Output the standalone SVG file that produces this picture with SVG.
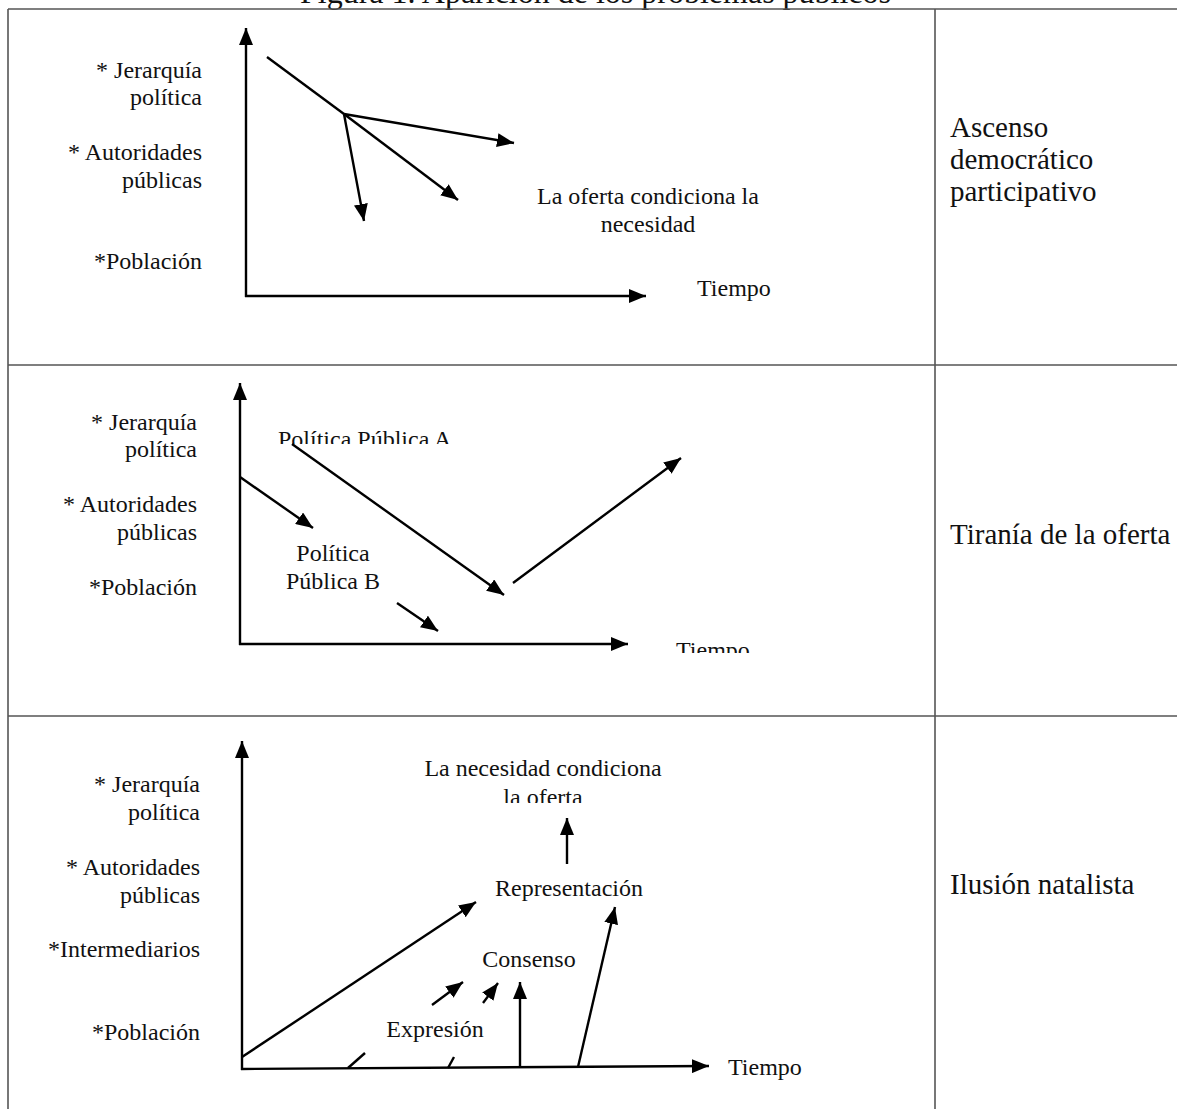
<svg xmlns="http://www.w3.org/2000/svg" width="1177" height="1109" viewBox="0 0 1177 1109">
<style>
  .t { font-family: "Liberation Serif", "Times New Roman", serif; font-size: 24px; fill: #111; }
  .lbl { text-anchor: end; }
  .mid { text-anchor: middle; }
  .big { font-family: "Liberation Serif", "Times New Roman", serif; font-size: 29px; fill: #111; }
  .title { font-family: "Liberation Serif", "Times New Roman", serif; font-size: 32px; fill: #111; }
  .grid { stroke: #555; stroke-width: 1.6; fill: none; }
  .ax { stroke: #000; stroke-width: 2.4; fill: none; }
  .arr { stroke: #000; stroke-width: 2.4; fill: none; marker-end: url(#ah); }
</style>
<defs>
  <marker id="ah" markerUnits="userSpaceOnUse" markerWidth="18" markerHeight="14" refX="17" refY="7" orient="auto">
    <path d="M0,0 L17,7 L0,14 z" fill="#000"/>
  </marker>
  <clipPath id="clipA"><rect x="0" y="0" width="1177" height="444"/></clipPath>
  <clipPath id="clipT"><rect x="0" y="0" width="1177" height="653"/></clipPath>
  <clipPath id="clipO"><rect x="0" y="0" width="1177" height="803"/></clipPath>
</defs>
<rect width="1177" height="1109" fill="#fff"/>

<text class="title" x="300" y="3">Figura 1. Aparición de los problemas públicos</text>

<g id="table">
  <line class="grid" x1="8" y1="9" x2="1177" y2="9"/>
  <line class="grid" x1="8" y1="9" x2="8" y2="1109"/>
  <line class="grid" x1="935" y1="9" x2="935" y2="1109"/>
  <line class="grid" x1="8" y1="365" x2="1177" y2="365"/>
  <line class="grid" x1="8" y1="716" x2="1177" y2="716"/>
</g>

<g id="panel1">
  <text class="t lbl" x="202" y="78">* Jerarquía</text>
  <text class="t lbl" x="202" y="105">política</text>
  <text class="t lbl" x="202" y="160">* Autoridades</text>
  <text class="t lbl" x="202" y="188">públicas</text>
  <text class="t lbl" x="202" y="269">*Población</text>
  <text class="t mid" x="648" y="204">La oferta condiciona la</text>
  <text class="t mid" x="648" y="232">necesidad</text>
  <text class="t" x="697" y="296">Tiempo</text>
  <text class="big" x="950" y="137">Ascenso</text>
  <text class="big" x="950" y="169">democrático</text>
  <text class="big" x="950" y="201">participativo</text>
</g>

<g id="panel2">
  <text class="t lbl" x="197" y="430">* Jerarquía</text>
  <text class="t lbl" x="197" y="457">política</text>
  <text class="t lbl" x="197" y="512">* Autoridades</text>
  <text class="t lbl" x="197" y="540">públicas</text>
  <text class="t lbl" x="197" y="595">*Población</text>
  <text class="t" x="278" y="447" clip-path="url(#clipA)">Política Pública A</text>
  <text class="t mid" x="333" y="561">Política</text>
  <text class="t mid" x="333" y="589">Pública B</text>
  <text class="t" x="676" y="658" clip-path="url(#clipT)">Tiempo</text>
  <text class="big" x="950" y="544">Tiranía de la oferta</text>
</g>

<g id="panel3">
  <text class="t lbl" x="200" y="792">* Jerarquía</text>
  <text class="t lbl" x="200" y="820">política</text>
  <text class="t lbl" x="200" y="875">* Autoridades</text>
  <text class="t lbl" x="200" y="903">públicas</text>
  <text class="t lbl" x="200" y="957">*Intermediarios</text>
  <text class="t lbl" x="200" y="1040">*Población</text>
  <text class="t mid" x="543" y="776">La necesidad condiciona</text>
  <text class="t mid" x="543" y="805" clip-path="url(#clipO)">la oferta</text>
  <text class="t mid" x="569" y="896">Representación</text>
  <text class="t mid" x="529" y="967">Consenso</text>
  <text class="t mid" x="435" y="1037">Expresión</text>
  <text class="t" x="728" y="1075">Tiempo</text>
  <text class="big" x="950" y="894">Ilusión natalista</text>
</g>

<g id="connectors">
  <!-- panel 1 -->
  <line class="arr" x1="246" y1="297" x2="246" y2="28"/>
  <line class="arr" x1="245" y1="296" x2="646" y2="296"/>
  <line class="ax" x1="267" y1="57" x2="344" y2="114"/>
  <line class="arr" x1="344" y1="114" x2="514" y2="143"/>
  <line class="arr" x1="344" y1="114" x2="458" y2="200"/>
  <line class="arr" x1="344" y1="114" x2="364" y2="221"/>
  <!-- panel 2 -->
  <line class="arr" x1="240" y1="645" x2="240" y2="383"/>
  <line class="arr" x1="239" y1="644" x2="628" y2="644"/>
  <line class="arr" x1="240" y1="477" x2="313" y2="528"/>
  <line class="arr" x1="292" y1="444" x2="504" y2="595"/>
  <line class="arr" x1="513" y1="583" x2="681" y2="458"/>
  <line class="arr" x1="397" y1="603" x2="438" y2="631"/>
  <!-- panel 3 -->
  <line class="arr" x1="242" y1="1070" x2="242" y2="741"/>
  <line class="arr" x1="241" y1="1069" x2="709" y2="1066"/>
  <line class="arr" x1="242" y1="1057" x2="476" y2="902"/>
  <line class="arr" x1="432" y1="1005" x2="463" y2="982"/>
  <line class="arr" x1="483" y1="1003" x2="498" y2="983"/>
  <line class="arr" x1="520" y1="1067" x2="520" y2="982"/>
  <line class="arr" x1="578" y1="1067" x2="615" y2="907"/>
  <line class="arr" x1="567" y1="864" x2="567" y2="818"/>
  <line class="ax" x1="348" y1="1068" x2="365" y2="1053"/>
  <line class="ax" x1="448" y1="1068" x2="454" y2="1057"/>
</g>
</svg>
